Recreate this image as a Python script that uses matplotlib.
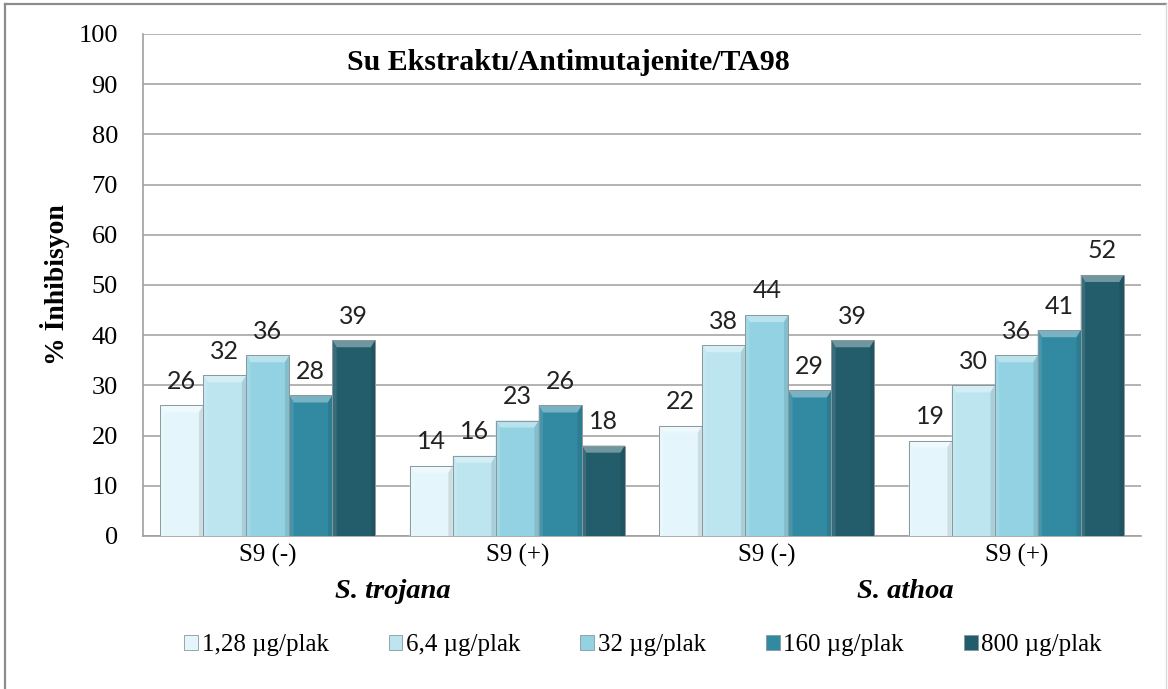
import matplotlib.pyplot as plt
from matplotlib.patches import Polygon, Patch
from matplotlib.lines import Line2D
import numpy as np

# data
categories = ["S9 (-)", "S9 (+)", "S9 (-)", "S9 (+)"]
species = ["S. trojana", "S. athoa"]
doses = ["1,28 µg/plak", "6,4 µg/plak", "32 µg/plak", "160 µg/plak", "800 µg/plak"]
values = [
    [26, 14, 22, 19],   # 1,28
    [32, 16, 38, 30],   # 6,4
    [36, 23, 44, 36],   # 32
    [28, 26, 29, 41],   # 160
    [39, 18, 39, 52],   # 800
]
colors = ["#E4F6FB", "#BCE5F0", "#93D2E3", "#318AA2", "#235D6C"]

serif = ["Liberation Serif", "DejaVu Serif"]
sans = ["Lato", "DejaVu Sans"]


def shade(c, f):
    rgb = np.array(plt.matplotlib.colors.to_rgb(c))
    if f > 0:
        rgb = rgb + (1 - rgb) * f
    else:
        rgb = rgb * (1 + f)
    return tuple(np.clip(rgb, 0, 1))


fig = plt.figure(figsize=(11.68, 6.89), dpi=100)
ax = fig.add_axes([143 / 1168, 1 - 536 / 689, (1141 - 143) / 1168, (536 - 34) / 689])

x = np.arange(len(categories))
w = 0.1725
n = len(doses)
for i, (dose, vals, col) in enumerate(zip(doses, values, colors)):
    pos = x + (i - (n - 1) / 2) * w
    bars = ax.bar(pos, vals, width=w, color=col, edgecolor="none", zorder=3)
    for b, v in zip(bars, vals):
        x0, x1 = b.get_x(), b.get_x() + b.get_width()
        dx = w * 0.1
        dy = 1.4
        # bevel: top highlight, side shading
        ax.add_patch(Polygon([(x0, v), (x1, v), (x1 - dx, v - dy), (x0 + dx, v - dy)],
                             closed=True, facecolor=shade(col, 0.35), edgecolor="none", zorder=4))
        ax.add_patch(Polygon([(x0, 0), (x0, v), (x0 + dx, v - dy), (x0 + dx, 0)],
                             closed=True, facecolor=shade(col, 0.1), edgecolor="none", zorder=4))
        ax.add_patch(Polygon([(x1, 0), (x1, v), (x1 - dx, v - dy), (x1 - dx, 0)],
                             closed=True, facecolor=shade(col, -0.1), edgecolor="none", zorder=4))
        ax.add_patch(plt.Rectangle((x0, 0), w, v, facecolor="none", edgecolor="#8A989C",
                                   linewidth=0.7, zorder=5))
        ax.annotate(f"{v}", (b.get_x() + w / 2, v), xytext=(0, 12), textcoords="offset points",
                    ha="center", va="baseline", fontsize=18, family=sans, color="#222222", zorder=6)

ax.set_xlim(-0.5, len(categories) - 0.5)
ax.set_ylim(0, 100)
ax.set_yticks(range(0, 101, 10))
ax.set_yticklabels([str(t) for t in range(0, 101, 10)], family=serif, fontsize=19)
ax.set_xticks(x)
ax.set_xticklabels(categories, family=serif, fontsize=18)
ax.tick_params(length=0)
ax.tick_params(axis="y", pad=18)
ax.tick_params(axis="x", pad=6)
ax.grid(axis="y", color="#A6A6A6", linewidth=1.2, zorder=0)
ax.set_axisbelow(True)
for s in ["top", "right"]:
    ax.spines[s].set_visible(False)
for s in ["left", "bottom"]:
    ax.spines[s].set_color("#A0A0A0")
    ax.spines[s].set_linewidth(1.2)

ax.set_ylabel("% İnhibisyon", family=serif, fontsize=20, fontweight="bold", labelpad=6)
fig.text(568 / 1168, 1 - 62 / 689, "Su Ekstraktı/Antimutajenite/TA98",
         ha="center", va="center", family=serif, fontsize=21.5, fontweight="bold")

fig.text(393 / 1168, 1 - 592 / 689, species[0], ha="center", va="center", family=serif,
         fontsize=20.5, fontweight="bold", style="italic")
fig.text(905 / 1168, 1 - 592 / 689, species[1], ha="center", va="center", family=serif,
         fontsize=20.5, fontweight="bold", style="italic")

handles = [Patch(facecolor=c, edgecolor="#8A989C", linewidth=0.6) for c in colors]
fig.legend(handles, doses, loc="center", bbox_to_anchor=(643 / 1168, 1 - 645 / 689), ncol=5,
           frameon=False, prop={"family": serif, "size": 18}, handlelength=0.55, handleheight=0.55,
           handletextpad=0.15, columnspacing=2.4)

# outer frame
fig.add_artist(Line2D([5 / 1168, 5 / 1168], [0, 1 - 4 / 689], color="#8C8C8C", linewidth=1.6))
fig.add_artist(Line2D([5 / 1168, 1166 / 1168], [1 - 4 / 689, 1 - 4 / 689], color="#8C8C8C", linewidth=1.6))
fig.add_artist(Line2D([1166 / 1168, 1166 / 1168], [0, 1 - 4 / 689], color="#D9D9D9", linewidth=1.0))

fig.savefig("out.png", dpi=100)
